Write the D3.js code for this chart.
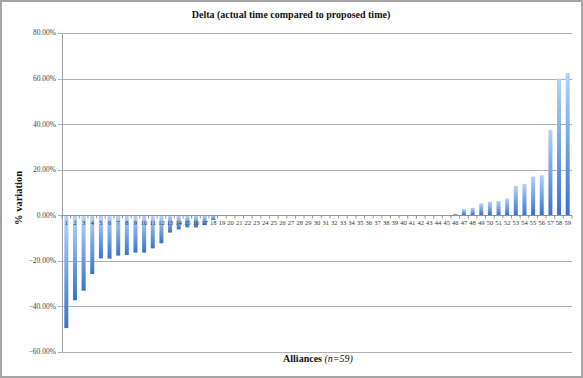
<!DOCTYPE html>
<html>
<head>
<meta charset="utf-8">
<script src="https://cdn.jsdelivr.net/npm/d3@7"></script>
<style>
  body { margin: 0; background: #fff; }
  svg { display: block; font-family: "Liberation Serif", "DejaVu Serif", serif; }
</style>
</head>
<body>
<div id="chart"></div>
<script>
const categories = d3.range(1, 60).map(String);
const values = [
  -49.5, -37.3, -33.1, -25.8, -18.9, -19.0, -17.7, -17.4, -16.4, -16.4,
  -14.5, -12.3, -7.6, -6.2, -5.3, -5.3, -4.3, -2.1,
  0, 0, 0, 0, 0, 0, 0, 0, 0, 0, 0, 0, 0, 0, 0, 0, 0, 0, 0, 0, 0, 0, 0, 0, 0, 0, 0,
  0.7, 2.7, 3.3, 5.2, 6.0, 6.3, 7.3, 12.9, 13.8, 17.0, 17.6, 37.5, 60.0, 62.5
];
const yTicks = [-60, -40, -20, 0, 20, 40, 60, 80];

const W = 583, H = 378;
const margin = { top: 33, right: 11, bottom: 26, left: 62 };

const svg = d3.select("#chart").append("svg")
  .attr("width", W).attr("height", H);

// outer frame
svg.append("rect")
  .attr("x", 1).attr("y", 1).attr("width", W - 2).attr("height", H - 2)
  .attr("fill", "#fff").attr("stroke", "#a6a6a6").attr("stroke-width", 2);

const defs = svg.append("defs");
const lg = defs.append("linearGradient")
  .attr("id", "bar-gradient")
  .attr("x1", "0%").attr("y1", "0%").attr("x2", "0%").attr("y2", "100%");
lg.append("stop").attr("offset", "0%").style("stop-color", "#b3d3fc");
lg.append("stop").attr("offset", "100%").style("stop-color", "#3672cf");

const x = d3.scaleBand()
  .domain(categories)
  .range([margin.left, W - margin.right]);

const y = d3.scaleLinear()
  .domain([-60, 80])
  .range([H - margin.bottom, margin.top]);

const g = svg.append("g");

// gridlines
g.append("g")
  .selectAll("line")
  .data(yTicks)
  .join("line")
  .attr("x1", margin.left - 4)
  .attr("x2", W - margin.right)
  .attr("y1", (d) => Math.round(y(d)) + 0.5)
  .attr("y2", (d) => Math.round(y(d)) + 0.5)
  .attr("stroke", "#b0b0b0")
  .attr("stroke-width", 1.2);

// y labels
g.append("g")
  .selectAll("text")
  .data(yTicks)
  .join("text")
  .attr("x", margin.left - 6)
  .attr("y", (d) => y(d))
  .attr("dy", "0.33em")
  .attr("text-anchor", "end")
  .attr("font-size", 7.5)
  .attr("fill", "#444")
  .text((d) => d3.format(".2f")(d) + "%");

// y axis line
g.append("line")
  .attr("x1", margin.left + 0.5).attr("x2", margin.left + 0.5)
  .attr("y1", y(80)).attr("y2", y(-60))
  .attr("stroke", "#a0a0a0");

// bars
const bw = 4;
g.append("g")
  .selectAll("rect")
  .data(values)
  .join("rect")
  .attr("x", (d, i) => x(categories[i]) + x.bandwidth() / 2 - bw / 2)
  .attr("width", bw)
  .attr("y", (d) => y(Math.max(0, d)))
  .attr("height", (d) => Math.abs(y(d) - y(0)))
  .attr("fill", "url(#bar-gradient)");

// zero axis with ticks
const zy = Math.round(y(0)) + 0.5;
g.append("line")
  .attr("x1", margin.left).attr("x2", W - margin.right)
  .attr("y1", zy).attr("y2", zy)
  .attr("stroke", "#909090");
g.append("g")
  .selectAll("line")
  .data(categories.concat(["end"]))
  .join("line")
  .attr("x1", (d, i) => margin.left + i * x.step())
  .attr("x2", (d, i) => margin.left + i * x.step())
  .attr("y1", zy).attr("y2", zy + 3)
  .attr("stroke", "#909090");

// category labels
g.append("g")
  .selectAll("text")
  .data(categories)
  .join("text")
  .attr("x", (d) => x(d) + x.bandwidth() / 2)
  .attr("y", zy + 9)
  .attr("text-anchor", "middle")
  .attr("font-size", 6.5)
  .attr("fill", "#333")
  .text((d) => d);

// title
svg.append("text")
  .attr("x", 291).attr("y", 18)
  .attr("text-anchor", "middle")
  .attr("font-size", 10)
  .attr("font-weight", "bold")
  .attr("fill", "#111")
  .text("Delta (actual time compared to proposed time)");

// y title
svg.append("text")
  .attr("transform", `translate(22, 198) rotate(-90)`)
  .attr("text-anchor", "middle")
  .attr("font-size", 10.5)
  .attr("font-weight", "bold")
  .attr("fill", "#111")
  .text("% variation");

// x title
const xt = svg.append("text")
  .attr("x", 318).attr("y", 362)
  .attr("text-anchor", "middle")
  .attr("font-size", 10)
  .attr("fill", "#111");
xt.append("tspan").attr("font-weight", "bold").text("Alliances ");
xt.append("tspan").attr("font-style", "italic").text("(n=59)");
</script>
</body>
</html>
